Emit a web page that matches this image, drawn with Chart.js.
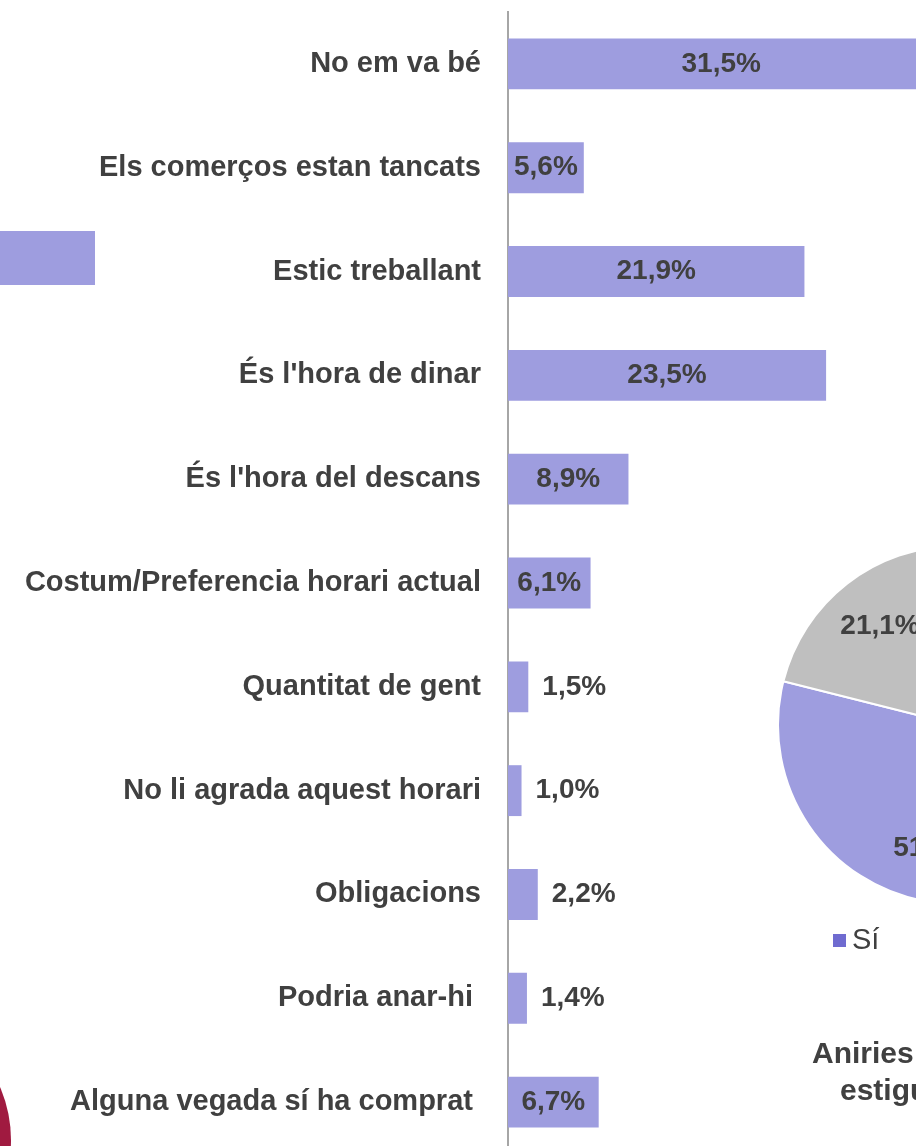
<!DOCTYPE html>
<html>
<head>
<meta charset="utf-8">
<script src="https://cdn.jsdelivr.net/npm/chart.js@4.4.0/dist/chart.umd.min.js"></script>
<style>
  html, body { margin: 0; padding: 0; background: #fff; }
  body { width: 916px; height: 1146px; overflow: hidden; position: relative; font-family: "Liberation Sans", Arial, sans-serif; }
  canvas { position: absolute; }
  #logo { position: absolute; left: -255px; top: 1007px; width: 266px; height: 266px; border-radius: 50%; background: #a01a40; }
  .txt { position: absolute; white-space: nowrap; color: #404040; line-height: 1; }
  .title { font-size: 30px; font-weight: bold; }
  #legend { left: 833px; top: 925px; font-size: 29px; }
  #legend .sw { display: inline-block; width: 13px; height: 13px; margin-right: 6px; vertical-align: 2px; }
</style>
</head>
<body>
<div id="logo"></div>
<canvas id="sideChart" width="615" height="54" style="left:-520px;top:231px"></canvas>
<canvas id="barChart" width="998" height="1154" style="left:0;top:0"></canvas>
<canvas id="pieChart" width="360" height="360" style="left:777px;top:545px"></canvas>
<div id="legend" class="txt"></div>
<div class="txt title" style="left:812px;top:1038px">Aniries a comprar si</div>
<div class="txt title" style="left:840px;top:1075px">estiguessin oberts?</div>

<script>
const categories = [
  'No em va bé',
  'Els comerços estan tancats',
  'Estic treballant',
  "És l'hora de dinar",
  "És l'hora del descans",
  'Costum/Preferencia horari actual',
  'Quantitat de gent',
  'No li agrada aquest horari',
  'Obligacions',
  'Podria anar-hi ',
  'Alguna vegada sí ha comprat ',
];
const values = [31.5, 5.6, 21.9, 23.5, 8.9, 6.1, 1.5, 1.0, 2.2, 1.4, 6.7];

const pieLabels = ['Sí', 'No', 'Ns/Nc'];
const pieValues = [51.7, 21.1, 27.2];
const pieColors = ['#9e9ddf', '#bfbfbf', '#5d59b3'];
const legendColors = ['#6f6bd0'];

const sideCategories = [''];
const sideValues = [45.2];

const textColor = '#404040';
const fmt = (v) => v.toFixed(1).replace('.', ',') + '%';

const barLabels = {
  id: 'barLabels',
  afterDatasetsDraw(chart) {
    const { ctx } = chart;
    const meta = chart.getDatasetMeta(0);
    ctx.save();
    ctx.font = 'bold 28px "Liberation Sans"';
    ctx.fillStyle = textColor;
    ctx.textBaseline = 'middle';
    meta.data.forEach((bar, i) => {
      const v = values[i];
      if (v < 3) {
        ctx.textAlign = 'left';
        ctx.fillText(fmt(v), bar.x + 14, bar.y);
      } else {
        ctx.textAlign = 'center';
        ctx.fillText(fmt(v), (bar.base + bar.x) / 2, bar.y);
      }
    });
    ctx.restore();
  },
};

new Chart(document.getElementById('barChart'), {
  type: 'bar',
  data: {
    labels: categories,
    datasets: [{
      data: values,
      backgroundColor: '#9e9ddf',
      borderWidth: 0,
      barPercentage: 0.49,
      categoryPercentage: 1,
    }],
  },
  options: {
    indexAxis: 'y',
    responsive: false,
    animation: false,
    layout: { padding: { top: 12, bottom: 0, left: 0, right: 0 } },
    plugins: { legend: { display: false }, tooltip: { enabled: false } },
    scales: {
      x: { display: false, min: 0, max: 36.2 },
      y: {
        afterFit: (scale) => {
          scale.width = 508;
          scale.paddingTop = 0;
          scale.paddingBottom = 0;
        },
        grid: { display: false, drawTicks: false },
        border: { display: true, color: '#a6a6a6', width: 2 },
        ticks: {
          padding: 27,
          autoSkip: false,
          color: textColor,
          font: { family: 'Liberation Sans', size: 29, weight: 'bold' },
        },
      },
    },
  },
  plugins: [barLabels],
});

// fragment of the neighbouring chart on the left
new Chart(document.getElementById('sideChart'), {
  type: 'bar',
  data: {
    labels: sideCategories,
    datasets: [{ data: sideValues, backgroundColor: '#9e9ddf', barPercentage: 1, categoryPercentage: 1 }],
  },
  options: {
    indexAxis: 'y',
    responsive: false,
    animation: false,
    plugins: { legend: { display: false }, tooltip: { enabled: false } },
    scales: { x: { display: false, min: 0, max: sideValues[0] }, y: { display: false } },
  },
});

const pieText = {
  id: 'pieText',
  afterDatasetsDraw(chart) {
    const { ctx } = chart;
    const meta = chart.getDatasetMeta(0);
    ctx.save();
    ctx.font = 'bold 28px "Liberation Sans"';
    ctx.fillStyle = textColor;
    ctx.textAlign = 'center';
    ctx.textBaseline = 'middle';
    meta.data.forEach((arc, i) => {
      const a = (arc.startAngle + arc.endAngle) / 2;
      const r = arc.outerRadius * 0.7;
      ctx.fillText(fmt(pieValues[i]), arc.x + Math.cos(a) * r, arc.y + Math.sin(a) * r);
    });
    ctx.restore();
  },
};

new Chart(document.getElementById('pieChart'), {
  type: 'pie',
  data: {
    labels: pieLabels,
    datasets: [{ data: pieValues, backgroundColor: pieColors, borderColor: '#ffffff', borderWidth: 2 }],
  },
  options: {
    responsive: false,
    animation: false,
    rotation: 98,
    layout: { padding: 0 },
    plugins: { legend: { display: false }, tooltip: { enabled: false } },
  },
  plugins: [pieText],
});

document.getElementById('legend').innerHTML =
  '<span class="sw" style="background:' + legendColors[0] + '"></span>' + pieLabels[0];
</script>
</body>
</html>
